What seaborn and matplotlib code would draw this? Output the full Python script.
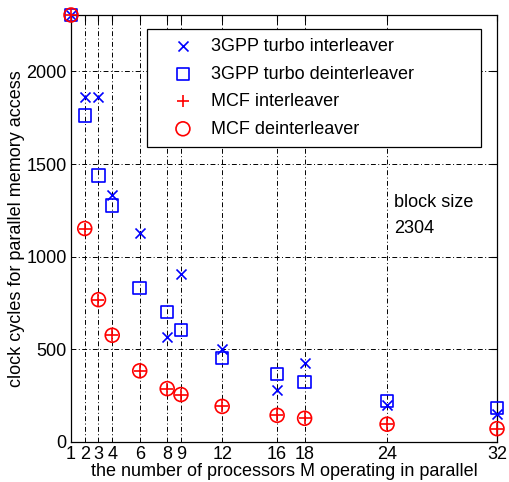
import matplotlib
matplotlib.use("Agg")
import matplotlib.pyplot as plt
import seaborn as sns
import numpy as np

M = [1, 2, 3, 4, 6, 8, 9, 12, 16, 18, 24, 32]
gpp_inter = [2304, 1859, 1859, 1335, 1130, 568, 908, 503, 281, 427, 200, 151]
gpp_deinter = [2304, 1762, 1438, 1276, 832, 703, 605, 454, 368, 324, 222, 184]
mcf_inter = [2304, 1152, 768, 576, 384, 288, 256, 192, 144, 128, 96, 72]
mcf_deinter = [2304, 1152, 768, 576, 384, 288, 256, 192, 144, 128, 96, 72]
yticks = [0, 500, 1000, 1500, 2000]

sns.set_theme(style="white")
plt.rcParams['font.family'] = ['Liberation Sans', 'DejaVu Sans']
plt.rcParams['text.color'] = 'black'
plt.rcParams['axes.labelcolor'] = 'black'

fig = plt.figure(figsize=(5.09, 4.82), dpi=100)
ax = fig.add_axes([71/509, 1-442/482, 426/509, 427/482])

grid_ls = (0, (5, 2.5, 1, 2.5))
for xv in M:
    ax.axvline(xv, color='black', lw=0.7, ls=grid_ls, zorder=0)
for yv in yticks[1:]:
    ax.axhline(yv, color='black', lw=0.7, ls=grid_ls, zorder=0)

sns.scatterplot(x=M, y=gpp_inter, marker='x', color='blue', s=52, linewidth=1.2,
                ax=ax, label='3GPP turbo interleaver', clip_on=False, zorder=3)
sns.scatterplot(x=M, y=gpp_deinter, marker='s', color='blue', facecolor='none', edgecolor='blue',
                s=80, linewidth=1.2, ax=ax, label='3GPP turbo deinterleaver', clip_on=False, zorder=3)
sns.scatterplot(x=M, y=mcf_inter, marker='+', color='red', s=70, linewidth=1.2,
                ax=ax, label='MCF interleaver', clip_on=False, zorder=3)
sns.scatterplot(x=M, y=mcf_deinter, marker='o', color='red', facecolor='none', edgecolor='red',
                s=100, linewidth=1.2, ax=ax, label='MCF deinterleaver', clip_on=False, zorder=3)

ax.set_xlim(1, 32)
ax.set_ylim(0, 2304)
ax.set_xticks(M)
ax.set_xticklabels([str(m) for m in M])
ax.set_yticks(yticks)
ax.tick_params(direction='in', length=4, width=0.8, top=True, right=True,
               labelsize=13, colors='black', pad=3)
for sp in ax.spines.values():
    sp.set_color('black')
    sp.set_linewidth(0.9)
    sp.set_visible(True)

ax.set_xlabel('the number of processors M operating in parallel', fontsize=13, labelpad=0)
ax.set_ylabel('clock cycles for parallel memory access', fontsize=13, labelpad=1)

leg = ax.legend(loc='upper left', bbox_to_anchor=(0.178, 0.693, 0.784, 0.274), mode='expand',
                fontsize=13, frameon=True, fancybox=False, edgecolor='black', framealpha=1,
                borderpad=0.5, labelspacing=0.58, handlelength=3.0, handletextpad=0.05,
                borderaxespad=0)
leg.get_frame().set_linewidth(0.9)

ax.text(0.758, 0.58, 'block size\n2304', transform=ax.transAxes, fontsize=13,
        va='top', ha='left', linespacing=1.7)

fig.savefig('out.png', dpi=100)
